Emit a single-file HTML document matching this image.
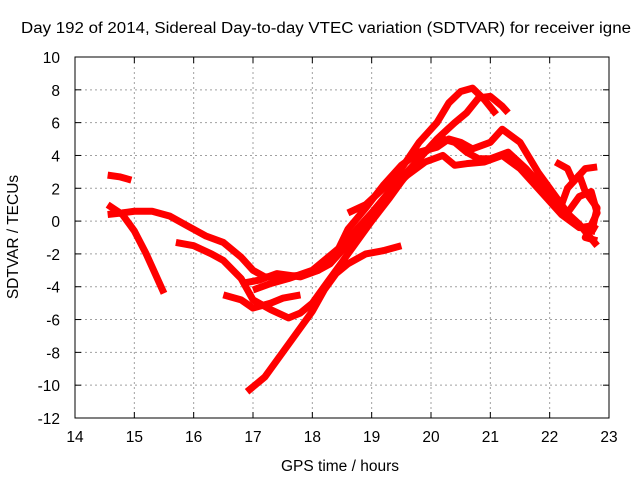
<!DOCTYPE html>
<html><head><meta charset="utf-8"><style>
body{margin:0;background:#fff;font-family:"Liberation Sans",sans-serif}
</style></head><body>
<svg id="chart" width="640" height="480" xmlns="http://www.w3.org/2000/svg" font-family="Liberation Sans, sans-serif" font-size="15.5">
<rect width="640" height="480" fill="#fff"/>
<g id="grid"></g>
<g id="axes"></g>
<g id="series"></g>
<text x="21" y="33" text-anchor="start" fill="#000" textLength="610" lengthAdjust="spacingAndGlyphs">Day 192 of 2014, Sidereal Day-to-day VTEC variation (SDTVAR) for receiver igne</text>
<text x="340" y="471" text-anchor="middle">GPS time / hours</text>
<text transform="translate(18,237) rotate(-90)" text-anchor="middle">SDTVAR / TECUs</text>
</svg>
<script>
const xTicks=[14,15,16,17,18,19,20,21,22,23];
const yTicks=[-12,-10,-8,-6,-4,-2,0,2,4,6,8,10];
const s1=[[14.55,2.8],[14.75,2.7],[14.95,2.5]];
const s2=[[14.55,1.0],[14.8,0.4],[15.0,-0.6],[15.2,-2.0],[15.35,-3.2],[15.5,-4.4]];
const s3=[[14.55,0.4],[14.8,0.5],[15.0,0.6],[15.3,0.6],[15.6,0.3],[15.9,-0.3],[16.2,-0.9],[16.5,-1.3],[16.8,-2.2],[17.0,-3.0],[17.2,-3.4],[17.5,-3.4],[17.8,-3.3],[18.1,-3.0],[18.3,-2.6],[18.5,-1.8],[18.7,-1.0],[19.0,0.4],[19.3,1.8],[19.6,3.0],[19.9,4.2],[20.2,5.0],[20.4,4.8],[20.6,4.2],[20.8,3.8],[21.0,3.8],[21.3,4.2],[21.6,3.2],[21.9,2.0],[22.2,0.8],[22.5,-0.2],[22.8,-1.5]];
const s4=[[15.7,-1.3],[16.0,-1.5],[16.3,-2.0],[16.5,-2.4],[16.8,-3.5],[17.0,-4.8],[17.3,-5.4],[17.6,-5.9],[17.8,-5.6],[18.0,-5.0],[18.2,-4.0],[18.5,-2.5],[18.8,-1.0],[19.0,0.0],[19.3,1.4],[19.5,2.4],[19.8,3.8],[20.1,5.0],[20.4,6.0],[20.6,6.6],[20.8,7.5],[21.0,7.6],[21.2,7.0],[21.3,6.6]];
const s5=[[16.5,-4.5],[16.8,-4.8],[17.0,-5.3],[17.3,-5.0],[17.5,-4.7],[17.8,-4.5]];
const s6=[[16.9,-10.4],[17.2,-9.5],[17.5,-8.0],[17.8,-6.5],[18.0,-5.5],[18.2,-4.2],[18.4,-3.2],[18.6,-2.6],[18.9,-2.0],[19.2,-1.8],[19.5,-1.5]];
const s7=[[18.6,0.5],[18.9,1.0],[19.2,2.0],[19.5,3.2],[19.8,4.8],[20.1,6.0],[20.3,7.2],[20.5,7.9],[20.7,8.1],[20.9,7.4],[21.1,6.5]];
const s8=[[16.8,-3.8],[17.1,-3.6],[17.4,-3.2],[17.8,-3.4],[18.1,-3.0],[18.4,-2.0],[18.6,-0.5],[18.9,0.8],[19.2,2.2],[19.5,3.4],[19.8,4.2],[20.1,4.5],[20.3,5.0],[20.5,4.8],[20.7,4.4],[21.0,4.8],[21.2,5.6],[21.5,4.8],[21.8,3.0],[22.1,1.5],[22.3,0.5],[22.5,1.5],[22.7,1.8],[22.8,0.5],[22.6,-1.0],[22.8,-1.2]];
const s9=[[17.0,-4.2],[17.3,-3.8],[17.6,-3.5],[18.0,-3.0],[18.5,-1.5],[19.0,0.5],[19.3,1.8],[19.6,2.8],[19.9,3.6],[20.2,4.0],[20.4,3.4],[20.6,3.5],[20.9,3.6],[21.2,4.0],[21.5,3.2],[21.9,1.6],[22.2,0.4],[22.5,-0.4],[22.7,-0.3],[22.8,-0.5]];
const s10=[[22.1,3.6],[22.3,3.2],[22.4,2.4],[22.6,3.2],[22.8,3.3]];
const s11=[[21.8,2.8],[22.0,1.6],[22.2,1.0],[22.3,2.0],[22.5,2.8],[22.6,1.8],[22.8,0.8],[22.7,-0.8]];
const allSeries=[s1,s2,s3,s4,s5,s6,s7,s8,s9,s10,s11];
const X0=75,X1=609,Y0=418,Y1=57;
const xs=v=>X0+(v-14)/9*(X1-X0);
const ys=v=>Y0-(v+12)/22*(Y0-Y1);
const NS="http://www.w3.org/2000/svg";
function mk(t,a,p){const e=document.createElementNS(NS,t);for(const k in a)e.setAttribute(k,a[k]);p.appendChild(e);return e;}
const grid=document.getElementById('grid'),axes=document.getElementById('axes'),ser=document.getElementById('series');
xTicks.forEach(t=>{const x=xs(t);
 if(t>14&&t<23){const g=mk('line',{x1:x,x2:x,y1:Y1,y2:Y0,stroke:'#a0a0a0','stroke-dasharray':'2,3'},grid);
 }
 mk('line',{x1:x,x2:x,y1:Y0,y2:Y0-6,stroke:'#000'},axes);mk('line',{x1:x,x2:x,y1:Y1,y2:Y1+6,stroke:'#000'},axes);
 const l=mk('text',{x:x,y:Y0+24,'text-anchor':'middle'},axes);l.textContent=t;
 });
yTicks.forEach(t=>{const y=ys(t);
 if(t>-12&&t<10){const g=mk('line',{x1:X0,x2:X1,y1:y,y2:y,stroke:'#a0a0a0','stroke-dasharray':'2,3'},grid);
 }
 mk('line',{x1:X0,x2:X0+6,y1:y,y2:y,stroke:'#000'},axes);mk('line',{x1:X1,x2:X1-6,y1:y,y2:y,stroke:'#000'},axes);
 const l=mk('text',{x:X0-15,y:y+6,'text-anchor':'end'},axes);l.textContent=t;
 });
const fr=mk('rect',{x:X0,y:Y1,width:X1-X0,height:Y0-Y1,fill:'none',stroke:'#000'},axes);

allSeries.forEach((s,i)=>{
 const p=mk('polyline',{points:s.map(d=>xs(d[0])+','+ys(d[1])).join(' '),fill:'none',stroke:'#f00','stroke-width':7,'stroke-linejoin':'round','stroke-linecap':'butt'},ser);
 
 
});
</script>
</body></html>
